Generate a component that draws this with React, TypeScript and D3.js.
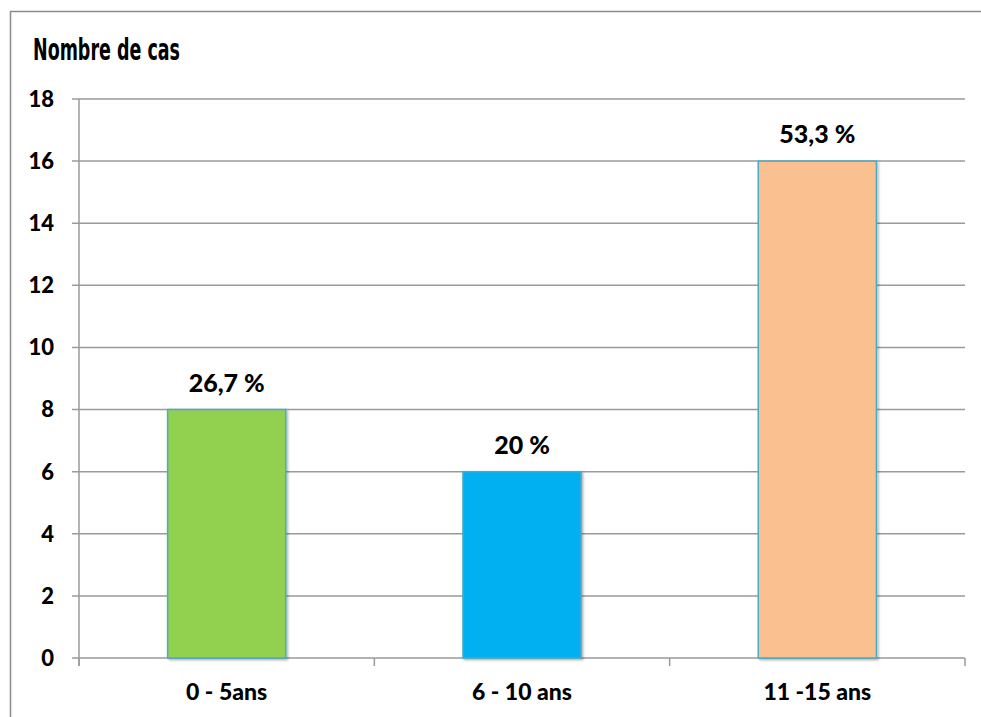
import React from "react";
import * as d3 from "d3";

// Age groups, case counts and the percentage labels shown above each bar
const categories = ["0 - 5ans", "6 - 10 ans", "11 -15 ans"];
const counts = [8, 6, 16];
const percentLabels = ["26,7 %", "20 %", "53,3 %"];
const barColors = ["#92D050", "#00B0F0", "#FAC090"];
const yTicks = [0, 2, 4, 6, 8, 10, 12, 14, 16, 18];

const W = 981;
const H = 717;
const left = 79;
const right = 965;
const top = 99;
const bottom = 658;
const font = "Lato, 'Open Sans', sans-serif";

export default function App() {
  const x = d3.scaleBand<string>().domain(categories).range([left, right]).paddingInner(0.6).paddingOuter(0.3);
  const xb = d3.scaleBand<string>().domain(categories).range([left, right]);
  const y = d3.scaleLinear().domain([0, 18]).range([bottom, top]);

  const boundaries = [left, ...categories.map((c) => (xb(c) as number) + xb.bandwidth())];

  return (
    <svg width={W} height={H} style={{ position: "absolute", left: 0, top: 0, background: "#fff" }}>
      <defs>
        <filter id="shadow" x="-10%" y="-10%" width="130%" height="130%">
          <feDropShadow dx="1.5" dy="1.5" stdDeviation="1.2" floodColor="#000" floodOpacity="0.3" />
        </filter>
      </defs>
      {/* chart frame */}
      <line x1={10} y1={11.5} x2={W} y2={11.5} stroke="#8c8c8c" strokeWidth={1.5} />
      <line x1={10.5} y1={11} x2={10.5} y2={H} stroke="#8c8c8c" strokeWidth={1.5} />

      <text
        x={33}
        y={60}
        fontFamily="'DejaVu Sans Condensed', 'DejaVu Sans', sans-serif"
        fontWeight="bold"
        fontSize={31}
        textLength={147}
        lengthAdjust="spacingAndGlyphs"
        fill="#000"
      >
        Nombre de cas
      </text>

      {/* horizontal gridlines and y ticks */}
      {yTicks.map((t) => (
        <g key={t}>
          <line x1={72} x2={right} y1={y(t)} y2={y(t)} stroke="#9a9a9a" strokeWidth={1.5} />
          <text x={54} y={y(t)} dy="0.36em" textAnchor="end" fontFamily={font} fontWeight={900} fontSize={22} fill="#000">
            {t}
          </text>
        </g>
      ))}
      <line x1={left} x2={left} y1={top} y2={bottom + 8} stroke="#9a9a9a" strokeWidth={1.5} />
      {boundaries.map((bx, i) => (
        <line key={i} x1={bx} x2={bx} y1={bottom} y2={bottom + 8} stroke="#9a9a9a" strokeWidth={1.5} />
      ))}

      {/* bars */}
      {categories.map((c, i) => (
        <g key={c}>
          <rect
            x={x(c)}
            y={y(counts[i])}
            width={x.bandwidth()}
            height={bottom - y(counts[i])}
            fill={barColors[i]}
            stroke="#4BACC6"
            strokeWidth={1.5}
            filter="url(#shadow)"
          />
          <text
            x={(x(c) as number) + x.bandwidth() / 2}
            y={y(counts[i]) - 18}
            textAnchor="middle"
            fontFamily={font}
            fontWeight={900}
            fontSize={25}
            fill="#000"
          >
            {percentLabels[i]}
          </text>
          <text
            x={(xb(c) as number) + xb.bandwidth() / 2}
            y={700}
            textAnchor="middle"
            fontFamily={font}
            fontWeight={900}
            fontSize={23}
            fill="#000"
          >
            {c}
          </text>
        </g>
      ))}
    </svg>
  );
}
